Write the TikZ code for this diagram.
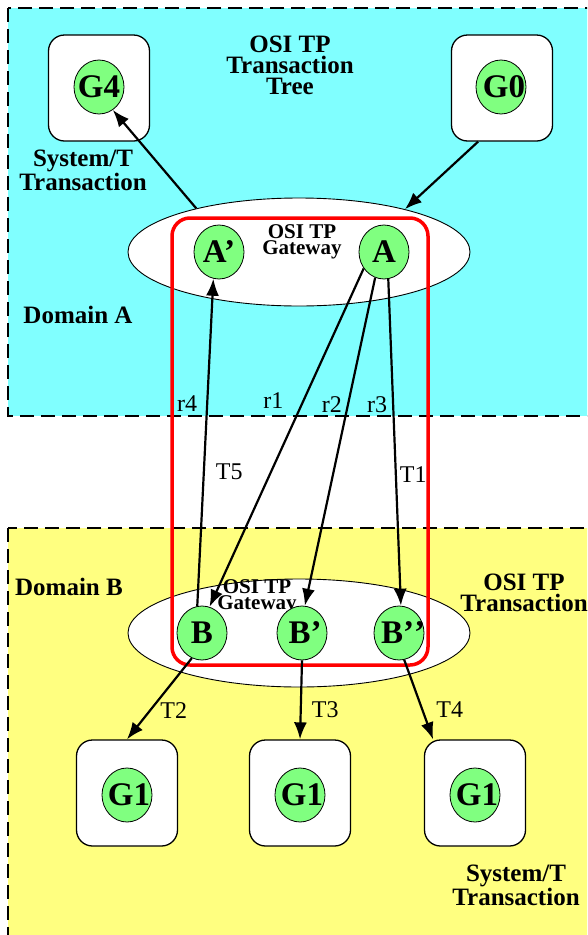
\documentclass[tikz,border=0pt]{standalone}
\usepackage{fontspec}
\setmainfont{Liberation Serif}
\usetikzlibrary{positioning,shapes.geometric,arrows.meta}
\definecolor{domA}{RGB}{128,255,255}
\definecolor{domB}{RGB}{255,255,128}
\definecolor{entity}{RGB}{128,255,128}

\begin{document}
\begin{tikzpicture}[x=1pt,y=-1pt,
    domainbox/.style={draw, line width=2pt, dash pattern=on 14pt off 7pt},
    gbox/.style={draw, fill=white, line width=1.3pt, rounded corners=16pt, minimum width=101pt, minimum height=106pt},
    gnode/.style={draw, fill=entity, ellipse, inner sep=0pt, line width=0.8pt, minimum width=50pt, minimum height=54pt, font=\fontsize{33}{33}\selectfont\bfseries},
    gateway/.style={draw, fill=white, ellipse, line width=0.9pt, minimum width=342pt, minimum height=108pt},
    gwtext/.style={align=center, inner sep=0pt, font=\fontsize{21}{16}\selectfont\bfseries},
    title/.style={align=center, inner sep=0pt, font=\fontsize{25}{21}\selectfont\bfseries},
    lbl/.style={inner sep=1pt, font=\fontsize{24}{24}\selectfont},
    flow/.style={-{Latex[length=17pt,width=13pt]}, line width=2.2pt}]
        \useasboundingbox (0,0) rectangle (587,935);
        \clip (0,0) rectangle (587,935);

        % the two domains
        \draw[domainbox, fill=domA] (8,8) rectangle (620,416);
        \draw[domainbox, fill=domB] (8,528) rectangle (620,960);

        % domain A
        \node (g4box) [gbox] at (99,88) {};
        \node (g0box) [gbox] at (502,88) {};
        \node (g4) [gnode] at (99,87) {\makebox[0pt]{G4}};
        \node (g0) [gnode] at (501,87) {\makebox[0pt]{\hspace{6pt}G0}};
        \node (treelbl) [title] at (290,65) {OSI TP\\Transaction\\Tree};
        \node (systa) [title] at (83,170) {System/T\\Transaction};
        \node (domalbl) [title] at (78,315) {Domain A};
        \node (gwa) [gateway] at (299,252) {};

        % domain B
        \node (domblbl) [title] at (69,587) {Domain B};
        \node (txlbl) [title] at (524,593) {OSI TP\\Transaction};
        \node (gwb) [gateway] at (299,633) {};
        \node (g1abox) [gbox] at (127,793) {};
        \node (g1bbox) [gbox] at (300,793) {};
        \node (g1cbox) [gbox] at (475,793) {};
        \node (g1a) [gnode] at (127,795) {\makebox[0pt]{\hspace{4pt}G1}};
        \node (g1b) [gnode] at (300,795) {\makebox[0pt]{\hspace{4pt}G1}};
        \node (g1c) [gnode] at (475,795) {\makebox[0pt]{\hspace{4pt}G1}};
        \node (systb) [title] at (516,885) {System/T\\Transaction};

        % gateway pair
        \draw[red, line width=3.5pt, rounded corners=18pt] (172,218) rectangle (428,665);
        \node (gwalbl) [gwtext] at (302,242) {OSI TP\\Gateway};
        \node (gwblbl) [gwtext] at (257,597) {OSI TP\\Gateway};
        \node (ap) [gnode] at (219,252) {A’};
        \node (a) [gnode] at (384,252) {A};
        \node (b) [gnode] at (202,633) {B};
        \node (bp) [gnode] at (302,633) {\makebox[0pt]{\hspace{6pt}B’}};
        \node (bpp) [gnode] at (399,633) {\makebox[0pt]{\hspace{8pt}B’\kern0pt’}};

        \draw[flow] (gwa.157) -- (g4.301);
        \draw[flow] (g0box.246) -- (gwa.22);
        \draw[flow] (a.219) -- node[lbl, pos=0.39, left=18pt] {r1} (b.74);
        \draw[flow] (a.251) -- node[lbl, pos=0.386, left=4pt] {r2} (bp.84);
        \draw[flow] (a.279) -- node[lbl, pos=0.385, left=4pt] {r3} node[lbl, pos=0.6, right=2pt] {T1} (bpp.86);
        \draw[flow] (b.100) -- node[lbl, pos=0.62, left=8pt] {r4} node[lbl, pos=0.41, right=10pt] {T5} (ap.258);
        \draw[flow] (b.248) -- node[lbl, pos=0.64, right=8pt] {T2} (g1abox.north);
        \draw[flow] (bp.south) -- node[lbl, pos=0.62, right=9pt] {T3} (g1bbox.north);
        \draw[flow] (bpp.281) -- node[lbl, pos=0.625, right=12pt] {T4} (g1cbox.128);
    \end{tikzpicture}
\end{document}
